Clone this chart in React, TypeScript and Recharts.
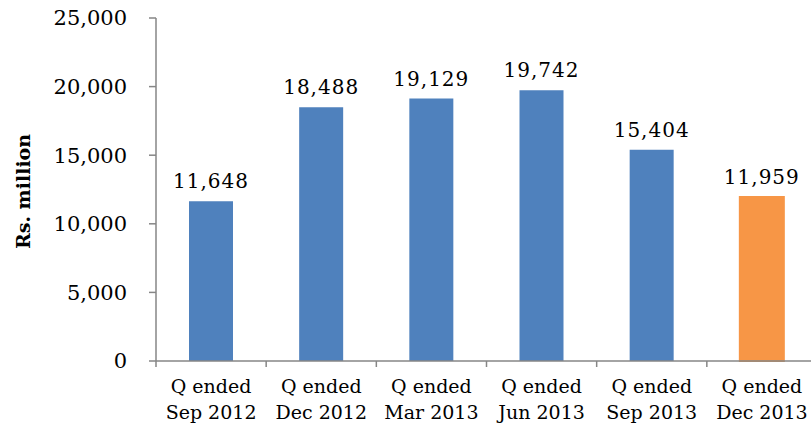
import React from 'react'
import { BarChart, Bar, XAxis, YAxis, Cell, LabelList } from 'recharts'

const quarters = ['Q ended|Sep 2012', 'Q ended|Dec 2012', 'Q ended|Mar 2013', 'Q ended|Jun 2013', 'Q ended|Sep 2013', 'Q ended|Dec 2013']
const values = [11648, 18488, 19129, 19742, 15404, 11959]
const yTicks = [0, 5000, 10000, 15000, 20000, 25000]

const data = quarters.map((name, i) => ({ name, value: values[i] }))

const FONT = '"DejaVu Serif", serif'
const AXIS = '#868686'
const BLUE = '#4F81BD'
const ORANGE = '#F79646'

const fmt = (v: number) => v.toLocaleString('en-US')

// two-line category label plus the boundary tick marks between categories
function QuarterTick(props: any) {
  const { x, y, payload, index } = props
  const half = payload.offset ?? 0
  const [l1, l2] = String(payload.value).split('|')
  return (
    <g>
      <line x1={x - half} x2={x - half} y1={y} y2={y + 6} stroke={AXIS} strokeWidth={1.5} />
      {index === quarters.length - 1 && (
        <line x1={x + half} x2={x + half} y1={y} y2={y + 6} stroke={AXIS} strokeWidth={1.5} />
      )}
      <text x={x} y={y + 32} textAnchor="middle" fontFamily={FONT} fontSize={19} fill="#000">
        {l1}
      </text>
      <text x={x} y={y + 58} textAnchor="middle" fontFamily={FONT} fontSize={19} fill="#000">
        {l2}
      </text>
    </g>
  )
}

function AxisTitle(props: any) {
  const { viewBox } = props
  const cx = 23
  const cy = viewBox.y + viewBox.height / 2 + 2
  return (
    <text
      x={cx}
      y={cy}
      transform={`rotate(-90, ${cx}, ${cy})`}
      textAnchor="middle"
      dominantBaseline="central"
      fontFamily={FONT}
      fontWeight="bold"
      fontSize={19}
      fill="#000"
    >
      Rs. million
    </text>
  )
}

export default function App() {
  return (
    <div
      style={{
        position: 'fixed',
        left: 0,
        top: 0,
        width: 811,
        height: 429,
        overflow: 'hidden',
        background: '#fff',
      }}
    >
      <BarChart width={817} height={429} data={data} margin={{ top: 18, right: 0, bottom: 0, left: 0 }}>
        <XAxis
          dataKey="name"
          height={68}
          tickLine={false}
          tickSize={0}
          tickMargin={0}
          axisLine={{ stroke: AXIS, strokeWidth: 1.5 }}
          tick={<QuarterTick />}
          interval={0}
        />
        <YAxis
          width={156}
          domain={[0, 25000]}
          ticks={yTicks}
          tickFormatter={fmt}
          tickSize={7}
          tickMargin={22}
          axisLine={{ stroke: AXIS, strokeWidth: 1.5 }}
          tickLine={{ stroke: AXIS, strokeWidth: 1.5 }}
          tick={{ fontFamily: FONT, fontSize: 21, fill: '#000' }}
          label={<AxisTitle />}
        />
        <Bar dataKey="value" barSize={44} isAnimationActive={false}>
          {data.map((d, i) => (
            <Cell
              key={d.name}
              fill={i === data.length - 1 ? ORANGE : BLUE}
              stroke={i === data.length - 1 ? ORANGE : 'none'}
              strokeWidth={2}
            />
          ))}
          <LabelList
            dataKey="value"
            position="top"
            offset={13}
            formatter={(v: any) => fmt(Number(v))}
            style={{ fontFamily: FONT, fontSize: 20, fill: '#000', letterSpacing: 1 }}
          />
        </Bar>
      </BarChart>
    </div>
  )
}
